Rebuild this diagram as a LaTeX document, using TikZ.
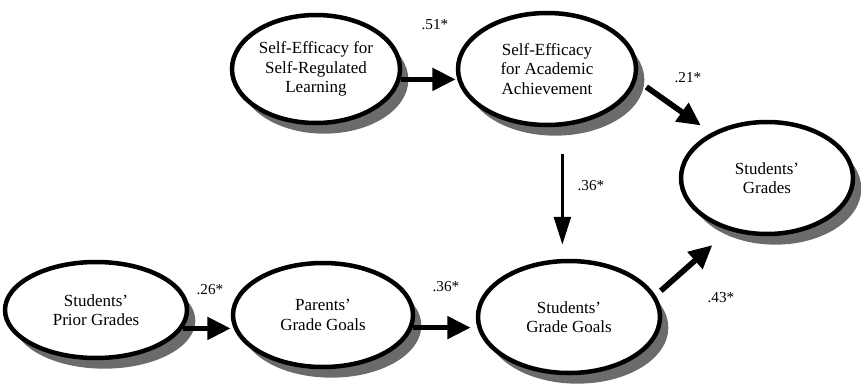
\documentclass[tikz,border=0pt]{standalone}
\usepackage{fontspec}
\setmainfont{Liberation Serif}
\usetikzlibrary{shapes.geometric,shadows,arrows.meta}

\tikzset{
	construct/.style={ellipse, draw=black, line width=1.35mm, fill=white, align=center, inner sep=0pt,
		font=\fontsize{14.5}{16.6}\selectfont,
		drop shadow={shadow xshift=2.5mm, shadow yshift=-3.2mm, fill=black!58, opacity=1}},
	effect/.style={line width=1.7mm, -{Triangle[length=7mm, width=6.5mm]}},
	thineffect/.style={line width=1.1mm, -{Triangle[length=8.4mm, width=5mm]}},
	coef/.style={font=\fontsize{13}{15}\selectfont, inner sep=0pt}
}

\begin{document}
\begin{tikzpicture}[x=0.3mm, y=-0.3mm]
			%%%%% START %%%%%
			\useasboundingbox (0,0) rectangle (861,388);
			
			% self-efficacy row
			\node[construct, minimum width=50.4mm, minimum height=32.4mm] (srl) at (316,69) {Self-Efficacy for\\Self-Regulated\\Learning};
			\node[construct, minimum width=53.4mm, minimum height=33.6mm] (aa) at (547,69) {Self-Efficacy\\for Academic\\Achievement};
			
			\node[construct, minimum width=51.6mm, minimum height=33.6mm] (grades) at (767,178) {Students'\\Grades};
			
			% goals row
			\node[construct, minimum width=54.6mm, minimum height=28.8mm] (prior) at (96,310) {Students'\\Prior Grades};
			\node[construct, minimum width=54mm, minimum height=31.2mm] (parents) at (323,315) {Parents'\\Grade Goals};
			\node[construct, minimum width=54.6mm, minimum height=33.6mm] (sgg) at (569,317) {Students'\\Grade Goals};
			
			% paths
			\draw[effect] (srl.-7) -- (srl.-7 -| aa.west);
			\draw[effect, shorten <=3.6mm, shorten >=3.8mm] (aa.-7) -- (grades.141);
			\draw[thineffect, shorten <=8.4mm, shorten >=4.2mm] (aa.-75) -- (aa.-75 |- sgg.north);
			\draw[effect] (prior.-12) -- (prior.-12 -| parents.west);
			\draw[effect, shorten >=1.5mm] (parents.-8) -- (parents.-8 -| sgg.west);
			\draw[effect, shorten <=2.1mm, shorten >=6.6mm] (sgg.14) -- (grades.234);
			
			% coefficients
			\node[coef] (c51) at (435,25) {.51*};
			\node[coef] (c21) at (688,78) {.21*};
			\node[coef] (c36a) at (591,186) {.36*};
			\node[coef] (c26) at (210,290) {.26*};
			\node[coef] (c36b) at (446,287) {.36*};
			\node[coef] (c43) at (721,298) {.43*};
			
			%%%%% END %%%%%
\end{tikzpicture}
\end{document}
